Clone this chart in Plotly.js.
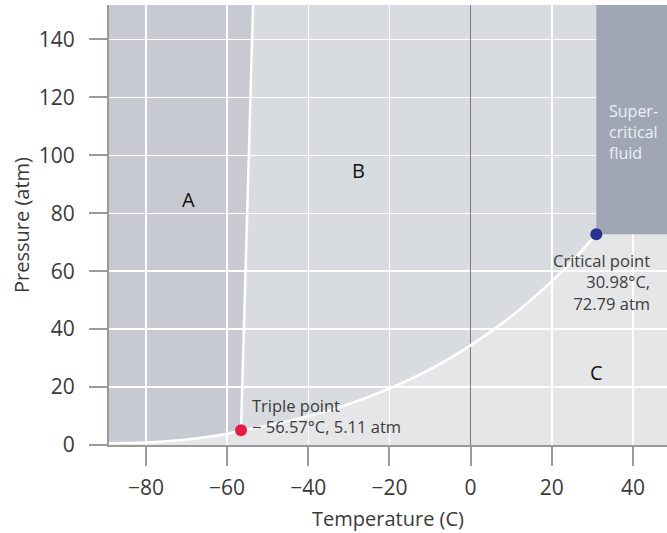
<!DOCTYPE html>
<html>
<head>
<meta charset="utf-8">
<script src="https://cdn.plot.ly/plotly-3.0.1.min.js"></script>
<style>html,body{margin:0;padding:0;background:#fff;}#chart{width:667px;height:533px;}</style>
</head>
<body>
<div id="chart"></div>
<script>
// Axis extents
var xRange = [-89.1, 48.4];
var yRange = [0, 151.9];
var xTicks = [-80, -60, -40, -20, 0, 20, 40];
var yTicks = [0, 20, 40, 60, 80, 100, 120, 140];

// Phase boundaries (temperature °C, pressure atm)
var sublimationT = [-89.1, -85, -80, -75, -70, -65, -60, -56.57];
var sublimationP = [0.6, 0.7, 0.9, 1.3, 1.9, 2.8, 3.9, 5.11];

var meltingT = [-56.57, -55.1, -53.6];
var meltingP = [5.11, 80, 151.9];

var vaporT = [-56.57, -50, -40, -30, -20, -10, 0, 10, 20, 25, 30.98];
var vaporP = [5.11, 6.7, 9.9, 14.1, 19.5, 26.1, 34.4, 44.4, 56.5, 63.4, 72.79];

// Special points
var tripleT = -56.57, tripleP = 5.11;
var criticalT = 30.98, criticalP = 72.79;

// Labels
var regionLabels = ["A", "B", "C"];
var regionLabelT = [-69.6, -27.5, 31];
var regionLabelP = [84.6, 94.6, 25.2];

function pathFrom(xs, ys) {
  return xs.map(function (x, i) { return (i === 0 ? "M" : "L") + x + "," + ys[i]; }).join(" ");
}

// Solid region: above sublimation, left of melting
var solidX = [xRange[0]].concat(sublimationT, meltingT.slice(1));
var solidY = [yRange[1]].concat(sublimationP, meltingP.slice(1));
// Liquid region: right of melting, above vaporization, left of critical T
var liqX = meltingT.concat([criticalT], vaporT.slice().reverse());
var liqY = meltingP.concat([yRange[1]], vaporP.slice().reverse());

var shapes = [
  {type: "path", xref: "x", yref: "y", layer: "below", path: pathFrom(solidX, solidY) + " Z",
   fillcolor: "#c7cad3", line: {width: 0}},
  {type: "path", xref: "x", yref: "y", layer: "below", path: pathFrom(liqX, liqY) + " Z",
   fillcolor: "#d8dbe0", line: {width: 0}},
  {type: "rect", xref: "x", yref: "y", layer: "between", x0: criticalT, x1: xRange[1], y0: criticalP, y1: yRange[1],
   fillcolor: "#a0a6b4", line: {width: 0}}
];

var lineStyle = {color: "#ffffff", width: 2.5, shape: "spline", smoothing: 0.8};
var traces = [
  {x: sublimationT, y: sublimationP, mode: "lines", line: lineStyle, hoverinfo: "skip"},
  {x: meltingT, y: meltingP, mode: "lines", line: {color: "#ffffff", width: 2.5}, hoverinfo: "skip"},
  {x: vaporT, y: vaporP, mode: "lines", line: lineStyle, hoverinfo: "skip"},
  {x: [tripleT], y: [tripleP], mode: "markers", marker: {color: "#e31c48", size: 12}, cliponaxis: false},
  {x: [criticalT], y: [criticalP], mode: "markers", marker: {color: "#2a3290", size: 12}, cliponaxis: false}
];

var font = "Open Sans, Noto Sans, DejaVu Sans, sans-serif";
var annotations = regionLabels.map(function (t, i) {
  return {x: regionLabelT[i], y: regionLabelP[i], xref: "x", yref: "y", text: t, showarrow: false,
          font: {family: font, size: 20, color: "#111"}};
});
annotations.push(
  {x: 33.6, y: 108, xref: "x", yref: "y", text: "Super-<br>critical<br>fluid", showarrow: false,
   xanchor: "left", align: "left", font: {family: font, size: 16, color: "#eef0f5"}},
  {x: 44.6, y: 56.3, xref: "x", yref: "y", text: "Critical point<br>30.98°C,<br>72.79 atm", showarrow: false,
   xanchor: "right", align: "right", font: {family: font, size: 16.5, color: "#3c3c3c"}},
  {x: -54.4, y: 10, xref: "x", yref: "y", text: "Triple point<br>\u2212 56.57°C, 5.11 atm", showarrow: false,
   xanchor: "left", align: "left", font: {family: font, size: 16.5, color: "#3c3c3c"}}
);

var layout = {
  width: 667, height: 533,
  margin: {l: 109, r: 0, t: 5, b: 88},
  paper_bgcolor: "#ffffff",
  plot_bgcolor: "#e5e6e8",
  showlegend: false,
  shapes: shapes,
  annotations: annotations,
  xaxis: {
    range: xRange, tickvals: xTicks, ticks: "outside", ticklen: 19, tickwidth: 2, tickcolor: "#9a9a9a",
    showline: true, linecolor: "#9a9a9a", linewidth: 2,
    showgrid: true, gridcolor: "#ffffff", gridwidth: 1.5,
    zeroline: true, zerolinecolor: "#7a7a7a", zerolinewidth: 1,
    ticklabelstandoff: 4,
    tickfont: {family: font, size: 21, color: "#3a3a3a"},
    title: {text: "Temperature (C)", standoff: 12, font: {family: font, size: 20, color: "#3a3a3a"}},
    fixedrange: true
  },
  yaxis: {
    range: yRange, tickvals: yTicks, ticks: "outside", ticklen: 18, tickwidth: 2, tickcolor: "#9a9a9a",
    showline: true, linecolor: "#9a9a9a", linewidth: 2,
    showgrid: true, gridcolor: "#ffffff", gridwidth: 1.5,
    zeroline: false,
    ticklabelstandoff: 10,
    tickfont: {family: font, size: 21, color: "#3a3a3a"},
    title: {text: "Pressure (atm)", standoff: 4, font: {family: font, size: 20, color: "#3a3a3a"}},
    fixedrange: true
  }
};

Plotly.newPlot("chart", traces, layout, {displayModeBar: false, staticPlot: true});
</script>
</body>
</html>
